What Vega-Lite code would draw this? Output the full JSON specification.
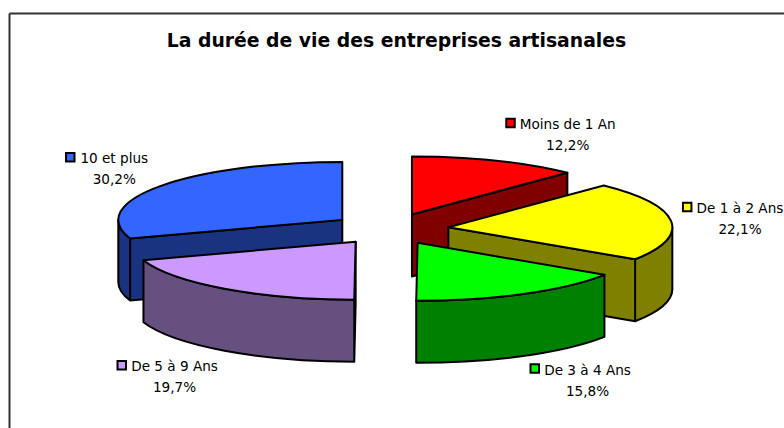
{
  "$schema": "https://vega.github.io/schema/vega-lite/v6.json",
  "width": 775,
  "height": 415,
  "padding": {"left": 9, "top": 13, "right": 0, "bottom": 0},
  "autosize": {"type": "none"},
  "background": "white",
  "view": {"stroke": null},
  "title": {"text": "La durée de vie des entreprises artisanales", "font": "DejaVu Sans", "fontSize": 18.8, "fontWeight": "bold", "color": "black", "anchor": "middle", "frame": "group", "baseline": "alphabetic", "offset": 0, "dy": 53},
  "config": {"axis": {"domainColor": "#333333", "domainWidth": 2, "labels": false, "ticks": false, "grid": false, "title": null}},
  "params": [
    {"name": "rx", "value": 224},
    {"name": "ry", "value": 58},
    {"name": "d", "value": 62}
  ],
  "data": {"values": [
    {"part": "Moins de 1 An", "value": 12.2},
    {"part": "De 1 à 2 Ans", "value": 22.1},
    {"part": "De 3 à 4 Ans", "value": 15.8},
    {"part": "De 5 à 9 Ans", "value": 19.7},
    {"part": "10 et plus", "value": 30.2}
  ]},
  "transform": [
    {"stack": "value", "groupby": [], "offset": "zero", "as": ["v0", "v1"]},
    {"joinaggregate": [{"op": "sum", "field": "value", "as": "total"}]},
    {"calculate": "2*PI*datum.v0/datum.total", "as": "a0"},
    {"calculate": "2*PI*datum.v1/datum.total", "as": "a1"},
    {"calculate": "(datum.a0+datum.a1)/2", "as": "m"},
    {"calculate": "0.262*rx*sin(datum.m)", "as": "ox"},
    {"calculate": "-0.27*ry*cos(datum.m)", "as": "oy"},
    {"calculate": "round(10*rx*sin(datum.a0))/10", "as": "x0"},
    {"calculate": "round(-10*ry*cos(datum.a0))/10", "as": "y0"},
    {"calculate": "round(10*rx*sin(datum.a1))/10", "as": "x1"},
    {"calculate": "round(-10*ry*cos(datum.a1))/10", "as": "y1"},
    {"calculate": "max(datum.a0,PI/2)", "as": "u0"},
    {"calculate": "min(datum.a1,3*PI/2)", "as": "u1"},
    {"calculate": "round(10*rx*sin(datum.u0))/10", "as": "xu0"},
    {"calculate": "round(-10*ry*cos(datum.u0))/10", "as": "yu0"},
    {"calculate": "round(10*rx*sin(datum.u1))/10", "as": "xu1"},
    {"calculate": "round(-10*ry*cos(datum.u1))/10", "as": "yu1"},
    {"calculate": "'M0 0L'+datum.x0+' '+datum.y0+'A'+rx+' '+ry+' 0 0 1 '+datum.x1+' '+datum.y1+'Z'", "as": "topPath"},
    {"calculate": "(datum.a0>PI+0.001?'M0 0L'+datum.x0+' '+datum.y0+'L'+datum.x0+' '+(datum.y0+d)+'L0 '+d+'Z':'')+(datum.a1<PI-0.001?'M0 0L'+datum.x1+' '+datum.y1+'L'+datum.x1+' '+(datum.y1+d)+'L0 '+d+'Z':'')+(datum.u1>datum.u0?'M'+datum.xu0+' '+datum.yu0+'A'+rx+' '+ry+' 0 0 1 '+datum.xu1+' '+datum.yu1+'L'+datum.xu1+' '+(datum.yu1+d)+'A'+rx+' '+ry+' 0 0 0 '+datum.xu0+' '+(datum.yu0+d)+'Z':'')", "as": "wallPath"},
    {"calculate": "{'Moins de 1 An':[72,-32],'De 1 à 2 Ans':[69,-8],'De 3 à 4 Ans':[64.5,81],'De 5 à 9 Ans':[-50,83],'10 et plus':[-46,-23]}[datum.part]", "as": "nudge"},
    {"calculate": "1.262*rx*sin(datum.m)+datum.nudge[0]", "as": "lx"},
    {"calculate": "-1.262*ry*cos(datum.m)+datum.nudge[1]", "as": "ly"},
    {"calculate": "datum.lx-4.4*length(datum.part)", "as": "kx"},
    {"calculate": "datum.ly-6", "as": "ky"},
    {"calculate": "datum.part+'\\n'+replace(format(datum.value,'.1f'),'.',',')+'%'", "as": "label"}
  ],
  "layer": [
    {
      "mark": {"type": "point", "filled": true, "opacity": 1, "stroke": "black", "strokeWidth": 2, "strokeJoin": "round"},
      "encoding": {
        "x": {"field": "ox", "type": "quantitative", "scale": {"domain": [-381, 394], "nice": false, "zero": false}, "axis": {"orient": "top"}},
        "y": {"field": "oy", "type": "quantitative", "scale": {"domain": [-216, 199], "reverse": true, "nice": false, "zero": false}, "axis": {"orient": "left"}},
        "shape": {"field": "wallPath", "type": "nominal", "scale": null},
        "size": {"value": 4},
        "order": {"field": "oy", "type": "quantitative"},
        "fill": {"field": "part", "type": "nominal", "legend": null, "scale": {"domain": ["Moins de 1 An", "De 1 à 2 Ans", "De 3 à 4 Ans", "De 5 à 9 Ans", "10 et plus"], "range": ["#800000", "#808000", "#008000", "#665080", "#1A3380"]}}
      }
    },
    {
      "mark": {"type": "point", "filled": true, "opacity": 1, "stroke": "black", "strokeWidth": 2, "strokeJoin": "round"},
      "encoding": {
        "x": {"field": "ox", "type": "quantitative", "scale": {"domain": [-381, 394], "nice": false, "zero": false}, "axis": {"orient": "top"}},
        "y": {"field": "oy", "type": "quantitative", "scale": {"domain": [-216, 199], "reverse": true, "nice": false, "zero": false}, "axis": {"orient": "left"}},
        "shape": {"field": "topPath", "type": "nominal", "scale": null},
        "size": {"value": 4},
        "order": {"field": "oy", "type": "quantitative"},
        "fill": {"field": "part", "type": "nominal", "legend": null, "scale": {"domain": ["Moins de 1 An", "De 1 à 2 Ans", "De 3 à 4 Ans", "De 5 à 9 Ans", "10 et plus"], "range": ["#FF0000", "#FFFF00", "#00FF00", "#CC99FF", "#3366FF"]}}
      }
    },
    {
      "mark": {"type": "point", "shape": "square", "filled": true, "opacity": 1, "stroke": "black", "strokeWidth": 2, "size": 72},
      "encoding": {
        "x": {"field": "kx", "type": "quantitative", "scale": {"domain": [-381, 394], "nice": false, "zero": false}, "axis": {"orient": "top"}},
        "y": {"field": "ky", "type": "quantitative", "scale": {"domain": [-216, 199], "reverse": true, "nice": false, "zero": false}, "axis": {"orient": "left"}},
        "fill": {"field": "part", "type": "nominal", "legend": null, "scale": {"domain": ["Moins de 1 An", "De 1 à 2 Ans", "De 3 à 4 Ans", "De 5 à 9 Ans", "10 et plus"], "range": ["#FF0000", "#FFFF00", "#00FF00", "#CC99FF", "#3366FF"]}}
      }
    },
    {
      "mark": {"type": "text", "font": "DejaVu Sans", "fontSize": 13.6, "color": "black", "align": "center", "baseline": "alphabetic", "lineBreak": "\n", "lineHeight": 21},
      "encoding": {
        "x": {"field": "lx", "type": "quantitative", "scale": {"domain": [-381, 394], "nice": false, "zero": false}, "axis": {"orient": "top"}},
        "y": {"field": "ly", "type": "quantitative", "scale": {"domain": [-216, 199], "reverse": true, "nice": false, "zero": false}, "axis": {"orient": "left"}},
        "text": {"field": "label", "type": "nominal"}
      }
    }
  ],
  "resolve": {"scale": {"fill": "independent"}}
}
